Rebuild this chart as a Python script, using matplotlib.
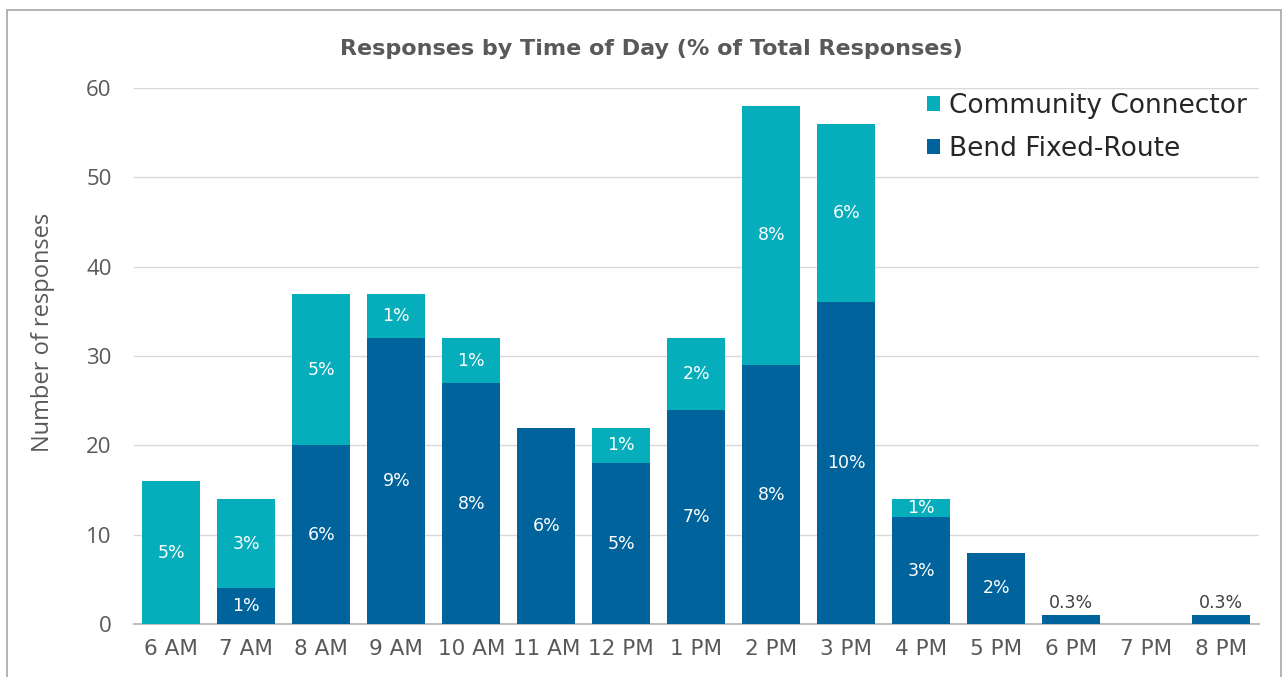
import matplotlib
matplotlib.use("Agg")
import matplotlib.pyplot as plt
from matplotlib.patches import Rectangle
import numpy as np

categories = ["6 AM", "7 AM", "8 AM", "9 AM", "10 AM", "11 AM", "12 PM", "1 PM",
              "2 PM", "3 PM", "4 PM", "5 PM", "6 PM", "7 PM", "8 PM"]
bend_fixed = [0, 4, 20, 32, 27, 22, 18, 24, 29, 36, 12, 8, 1, 0, 1]
community = [16, 10, 17, 5, 5, 0, 4, 8, 29, 20, 2, 0, 0, 0, 0]
bend_labels = ["", "1%", "6%", "9%", "8%", "6%", "5%", "7%", "8%", "10%", "3%", "2%", "0.3%", "", "0.3%"]
comm_labels = ["5%", "3%", "5%", "1%", "1%", "", "1%", "2%", "8%", "6%", "1%", "", "", "", ""]
yticks = [0, 10, 20, 30, 40, 50, 60]

plt.rcParams['font.family'] = ['DejaVu Sans']
c_dark = "#00639B"
c_teal = "#06ADBA"
gray = "#595959"

fig = plt.figure(figsize=(12.87, 6.77), dpi=100)
ax = fig.add_axes([0.104, 0.078, 0.874, 0.792])

x = np.arange(len(categories))
w = 0.77
ax.bar(x, bend_fixed, width=w, color=c_dark, label="Bend Fixed-Route", zorder=3)
ax.bar(x, community, width=w, bottom=bend_fixed, color=c_teal, label="Community Connector", zorder=3)

for i in range(len(categories)):
    b = bend_fixed[i]
    c = community[i]
    if bend_labels[i]:
        if b >= 3:
            ax.text(x[i], b / 2, bend_labels[i], ha="center", va="center", color="white",
                    fontsize=12.5, zorder=4)
        else:
            ax.text(x[i], b + 0.4, bend_labels[i], ha="center", va="bottom", color="#404040",
                    fontsize=12.5, zorder=4)
    if comm_labels[i]:
        ax.text(x[i], b + c / 2, comm_labels[i], ha="center", va="center", color="white",
                fontsize=12.5, zorder=4)

ax.set_xlim(-0.5, len(categories) - 0.5)
ax.set_ylim(0, 60)
ax.set_yticks(yticks)
ax.set_yticklabels([str(v) for v in yticks], fontfamily="Open Sans", fontsize=16)
ax.set_xticks(x)
ax.set_xticklabels(categories, fontsize=15.5)
ax.tick_params(axis="both", length=0, colors=gray)
ax.tick_params(axis="x", pad=11)
ax.tick_params(axis="y", pad=16)
ax.grid(axis="y", color="#D9D9D9", linewidth=1, zorder=0)
for s in ["top", "right", "left"]:
    ax.spines[s].set_visible(False)
ax.spines["bottom"].set_color("#BFBFBF")
ax.spines["bottom"].set_linewidth(1.5)
ax.set_ylabel("Number of responses", fontsize=17, color=gray, fontfamily="Open Sans")
ax.yaxis.set_label_coords(-0.070, 0.545)

fig.text(0.506, 0.928, "Responses by Time of Day (% of Total Responses)", fontsize=16,
         fontweight="bold", color=gray, ha="center", va="center")

handles, labels = ax.get_legend_handles_labels()
leg = ax.legend(handles[::-1], labels[::-1], loc="upper right", bbox_to_anchor=(1.011, 1.035),
                frameon=False, fontsize=19, handlelength=0.5, handleheight=0.5,
                handletextpad=0.35, labelspacing=0.65, labelcolor="#262626")

fig.patches.append(Rectangle((0.0055, -0.05), 0.9895, 1.035, transform=fig.transFigure,
                             fill=False, edgecolor="#A6A6A6", linewidth=1.2))

fig.savefig("out.png", dpi=100)
